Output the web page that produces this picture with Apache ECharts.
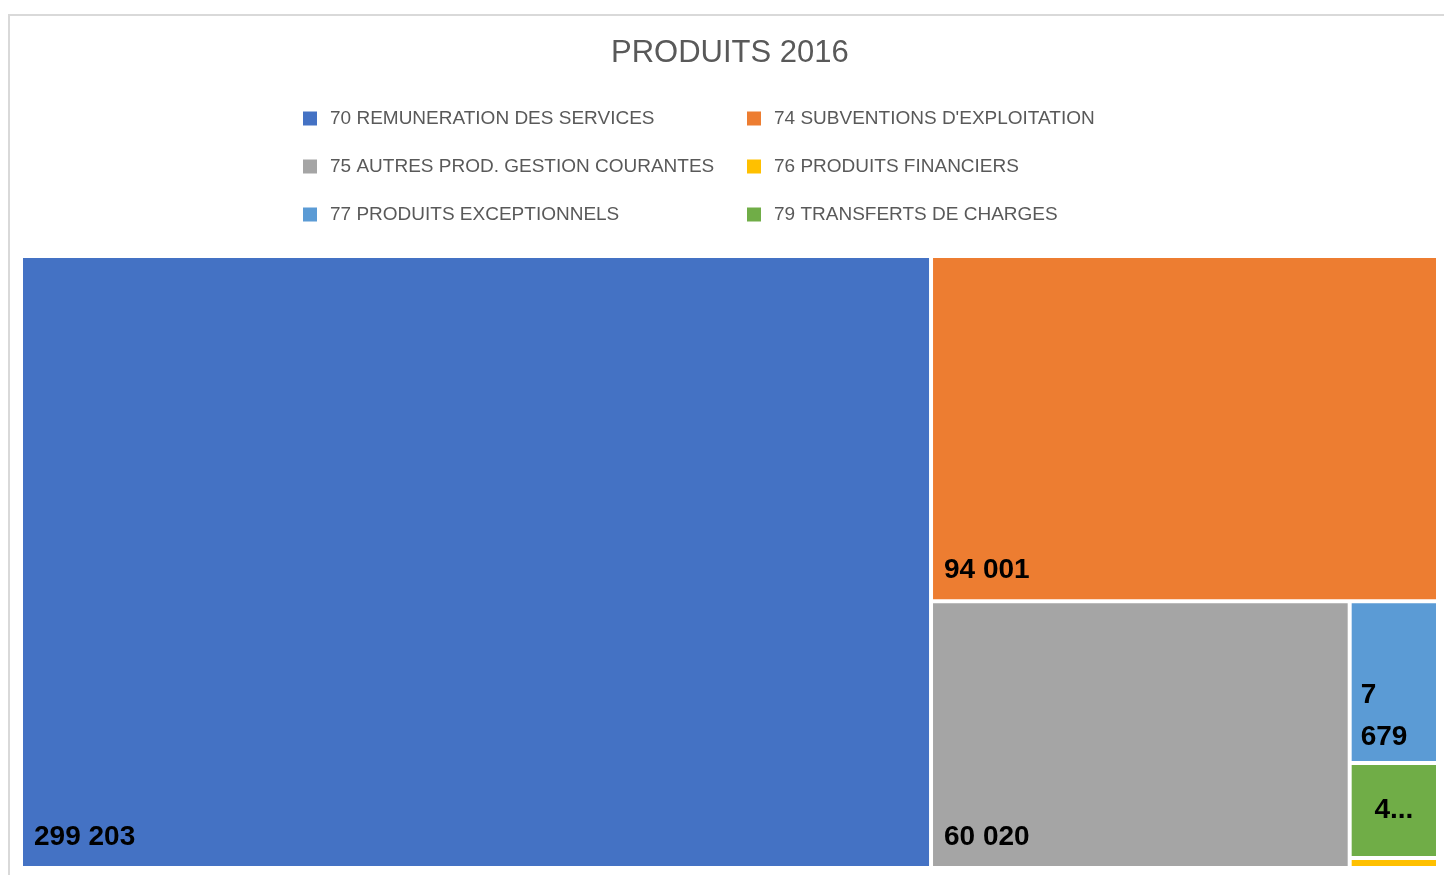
<!DOCTYPE html>
<html>
<head>
<meta charset="utf-8">
<script src="https://cdn.jsdelivr.net/npm/echarts@6/dist/echarts.min.js"></script>
<style>
  html, body { margin: 0; padding: 0; background: #fff; overflow: hidden; }
  #frame { position: absolute; left: 8px; top: 14px; width: 1600px; height: 1000px;
           border-left: 2px solid #d9d9d9; border-top: 2px solid #d9d9d9; }
  #chart { position: absolute; left: 0; top: 0; width: 1444px; height: 875px; }
</style>
</head>
<body>
<div id="frame"></div>
<div id="chart"></div>
<script>
// comptes de produits 2016
var categories = [
  '70 REMUNERATION DES SERVICES',
  '74 SUBVENTIONS D\'EXPLOITATION',
  '75 AUTRES PROD. GESTION COURANTES',
  '76 PRODUITS FINANCIERS',
  '77 PRODUITS EXCEPTIONNELS',
  '79 TRANSFERTS DE CHARGES'
];
var values = [299203, 94001, 60020, 470, 7679, 4512];
var colors = ['#4472C4', '#ED7D31', '#A5A5A5', '#FFC000', '#5B9BD5', '#70AD47'];

function fmt(v) {
  return String(v).replace(/\B(?=(\d{3})+(?!\d))/g, ' ');
}

var chart = echarts.init(document.getElementById('chart'));

var treeData = categories.map(function (name, i) {
  var item = { name: name, value: values[i], itemStyle: { color: colors[i] } };
  if (i === 4) {
    // trop etroit : le nombre passe sur deux lignes
    item.label = {
      distance: 3, lineHeight: 42, padding: [0, 0, 0, 6],
      formatter: function (p) { return fmt(p.value).replace(' ', '\n'); }
    };
  }
  if (i === 5) {
    item.label = { position: 'inside', formatter: function (p) { return String(p.value).charAt(0) + '...'; } };
  }
  if (i === 3) {
    item.label = { show: false };
  }
  return item;
});

// series vides juste pour la legende
var legendSeries = categories.map(function (name, i) {
  return { name: name, type: 'line', data: [], itemStyle: { color: colors[i] } };
});

var legendText = { color: '#595959', fontSize: 19, fontFamily: 'Liberation Sans', padding: [0, 0, 0, 8] };

var option = {
  animation: false,
  title: {
    text: 'PRODUITS 2016',
    left: 611,
    top: 38,
    padding: 0,
    textStyle: { color: '#595959', fontSize: 31, fontWeight: 'normal', fontFamily: 'Liberation Sans' }
  },
  legend: [
    {
      orient: 'vertical', left: 303, top: 109, padding: 0,
      icon: 'rect', itemWidth: 14, itemHeight: 14, itemGap: 29,
      data: [categories[0], categories[2], categories[4]],
      textStyle: legendText
    },
    {
      orient: 'vertical', left: 747, top: 109, padding: 0,
      icon: 'rect', itemWidth: 14, itemHeight: 14, itemGap: 29,
      data: [categories[1], categories[3], categories[5]],
      textStyle: legendText
    }
  ],
  grid: { show: false },
  xAxis: { show: false, type: 'category' },
  yAxis: { show: false, type: 'value' },
  series: legendSeries.concat([
    {
      type: 'treemap',
      left: 23, top: 258, right: 8, bottom: 9,
      squareRatio: 1,
      roam: false,
      nodeClick: false,
      breadcrumb: { show: false },
      label: {
        show: true,
        position: 'insideBottomLeft',
        distance: 11,
        padding: 0,
        color: '#000',
        fontSize: 28,
        fontWeight: 'bold',
        lineHeight: 36,
        fontFamily: 'Liberation Sans',
        formatter: function (p) { return fmt(p.value); }
      },
      itemStyle: { borderWidth: 0 },
      levels: [
        { itemStyle: { gapWidth: 4, borderWidth: 0 } },
        { itemStyle: { borderWidth: 0 } }
      ],
      data: treeData
    }
  ])
};

chart.setOption(option);
window.addEventListener('resize', function () { chart.resize(); });
</script>
</body>
</html>
